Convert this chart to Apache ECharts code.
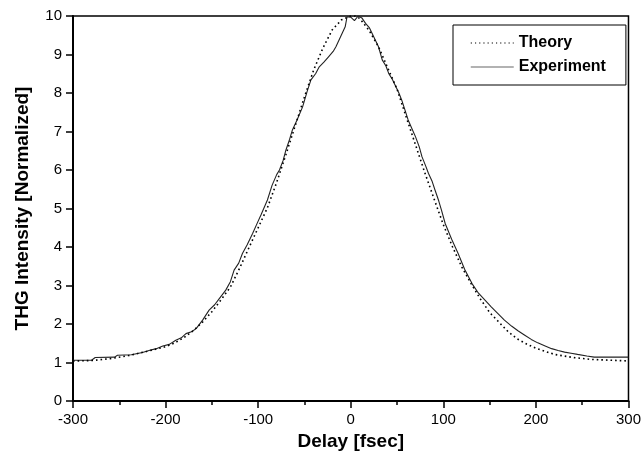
<!DOCTYPE html>
<html>
<head>
<meta charset="utf-8">
<script src="https://cdn.jsdelivr.net/npm/echarts@6/dist/echarts.min.js"></script>
<style>
  html, body { margin: 0; padding: 0; background: #fff; }
  #chart { width: 644px; height: 462px; }
</style>
</head>
<body>
<div id="chart"></div>
<script>
// 理论曲线 (dotted)
var theoryDelay = [-300, -280, -260, -240, -220, -200, -190, -180, -170, -160, -150, -140, -130, -120, -110, -100, -90, -80, -70, -60, -50, -40, -30, -20, -10, 0, 5, 10, 20, 30, 40, 50, 60, 70, 80, 90, 100, 110, 120, 130, 140, 150, 160, 170, 180, 190, 200, 210, 220, 240, 260, 280, 300];
var theoryVals = [1.04, 1.05, 1.10, 1.18, 1.29, 1.41, 1.51, 1.65, 1.83, 2.05, 2.32, 2.63, 2.96, 3.45, 3.98, 4.50, 5.02, 5.68, 6.40, 7.15, 7.90, 8.60, 9.17, 9.64, 9.90, 10.0, 10.0, 9.93, 9.62, 9.20, 8.65, 8.10, 7.37, 6.65, 5.93, 5.25, 4.58, 4.00, 3.48, 3.05, 2.65, 2.30, 2.05, 1.80, 1.61, 1.48, 1.37, 1.29, 1.21, 1.13, 1.08, 1.06, 1.04];

// 实验数据 (solid)
var expDelay = [-300, -280, -276, -255, -252, -237, -235, -225, -217, -210, -203, -196, -189, -183, -178, -172, -167, -160, -153, -147, -142, -135, -130, -126, -121, -117, -112, -106, -101, -97, -90, -85, -80, -77, -73, -70, -66, -63, -58, -52, -47, -43, -38, -34, -29, -24, -19, -16, -11, -6, -4, 0, 4, 8, 12, 16, 20, 23, 27, 30, 34, 38, 41, 45, 48, 52, 55, 58, 62, 66, 70, 74, 77, 81, 84, 88, 91, 95, 98, 102, 109, 116, 123, 131, 138, 145, 152, 159, 166, 174, 181, 188, 195, 202, 210, 217, 224, 231, 238, 245, 255, 263, 300];
var expVals = [1.06, 1.06, 1.13, 1.14, 1.19, 1.20, 1.25, 1.26, 1.32, 1.36, 1.43, 1.47, 1.58, 1.64, 1.75, 1.80, 1.88, 2.10, 2.36, 2.50, 2.66, 2.88, 3.10, 3.40, 3.58, 3.83, 4.05, 4.35, 4.62, 4.83, 5.22, 5.60, 5.88, 6.00, 6.25, 6.52, 6.80, 7.04, 7.30, 7.64, 8.05, 8.34, 8.50, 8.68, 8.80, 8.94, 9.08, 9.20, 9.46, 9.72, 9.98, 9.97, 9.88, 10.0, 9.95, 9.81, 9.70, 9.55, 9.35, 9.20, 8.86, 8.70, 8.51, 8.35, 8.20, 8.00, 7.82, 7.60, 7.30, 7.08, 6.86, 6.60, 6.34, 6.10, 5.91, 5.70, 5.48, 5.20, 4.96, 4.61, 4.20, 3.83, 3.42, 3.05, 2.80, 2.62, 2.44, 2.27, 2.10, 1.94, 1.82, 1.71, 1.60, 1.51, 1.43, 1.36, 1.31, 1.27, 1.24, 1.21, 1.17, 1.14, 1.14];

function zip(xs, ys) {
  return xs.map(function (x, i) { return [x, ys[i]]; });
}

var font = 'Arial, "Liberation Sans", Helvetica, sans-serif';
var chart = echarts.init(document.getElementById('chart'));

chart.setOption({
  animation: false,
  backgroundColor: '#fff',
  grid: {
    left: 73, right: 13, top: 16, bottom: 61,
    show: true, borderColor: '#000', borderWidth: 1.5
  },
  legend: {
    orient: 'vertical',
    left: 453, top: 25,
    padding: [10, 20, 10, 17],
    itemGap: 8,
    itemWidth: 43, itemHeight: 12,
    backgroundColor: '#fff',
    borderColor: '#000', borderWidth: 1,
    itemStyle: { opacity: 0 },
    textStyle: { fontFamily: font, fontWeight: 'bold', fontSize: 16, color: '#000' },
    data: [
      { name: 'Theory', lineStyle: { color: '#000', width: 1.2, type: [1.2, 3] } },
      { name: 'Experiment', lineStyle: { color: '#999', width: 1.5 } }
    ]
  },
  xAxis: {
    type: 'value',
    min: -300, max: 300, interval: 100,
    name: 'Delay [fsec]',
    nameLocation: 'middle', nameGap: 29,
    nameTextStyle: { fontFamily: font, fontWeight: 'bold', fontSize: 19, color: '#000' },
    axisLine: { onZero: false, lineStyle: { color: '#000', width: 2 } },
    axisTick: { length: 7, lineStyle: { color: '#000', width: 1.5 } },
    minorTick: { show: true, splitNumber: 2, length: 4, lineStyle: { color: '#000', width: 1.5 } },
    splitLine: { show: false },
    axisLabel: { fontFamily: font, fontSize: 15, color: '#000', margin: 11 }
  },
  yAxis: {
    type: 'value',
    min: 0, max: 10, interval: 1,
    name: 'THG Intensity [Normalized]',
    nameLocation: 'middle', nameGap: 41,
    nameTextStyle: { fontFamily: font, fontWeight: 'bold', fontSize: 19, color: '#000' },
    axisLine: { onZero: false, lineStyle: { color: '#000', width: 2 } },
    axisTick: { length: 7, lineStyle: { color: '#000', width: 1.5 } },
    splitLine: { show: false },
    axisLabel: { fontFamily: font, fontSize: 15, color: '#000', margin: 11 }
  },
  series: [
    {
      name: 'Theory',
      type: 'line',
      symbol: 'none',
      data: zip(theoryDelay, theoryVals),
      lineStyle: { color: '#000', width: 1.6, type: [1.6, 3] },
      itemStyle: { color: '#000' },
      z: 3
    },
    {
      name: 'Experiment',
      type: 'line',
      symbol: 'none',
      data: zip(expDelay, expVals),
      lineStyle: { color: '#222', width: 1.1 },
      itemStyle: { color: '#888' },
      z: 2
    }
  ]
});
</script>
</body>
</html>
